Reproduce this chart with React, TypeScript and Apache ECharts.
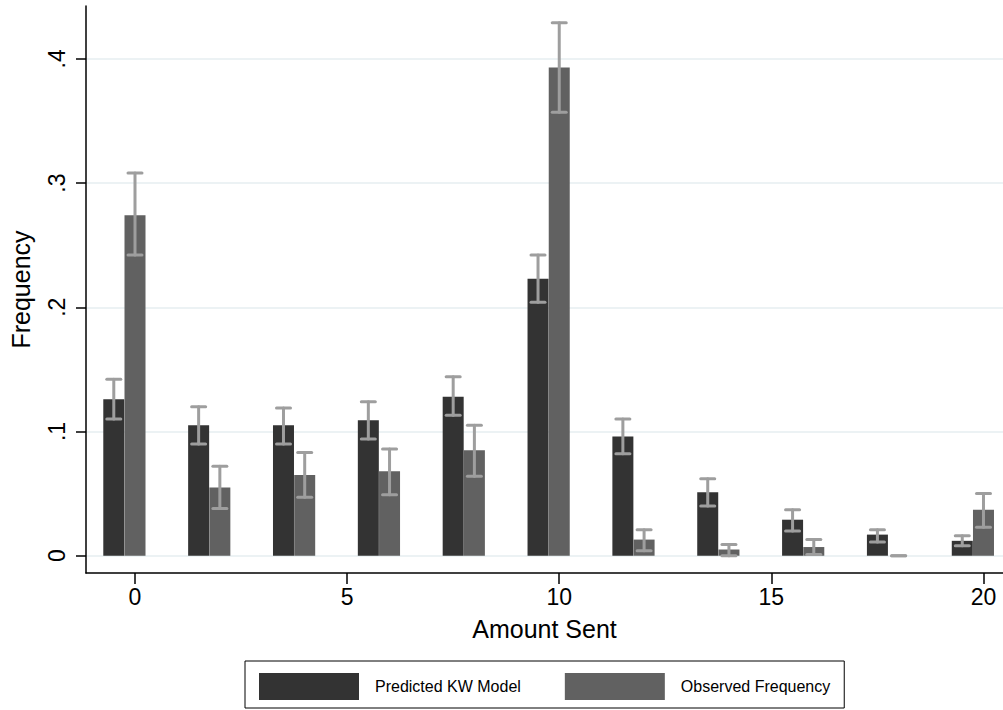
import React, { useEffect, useRef } from "react";
import * as echarts from "echarts";

// ---- data ----
const groups = [0, 2, 4, 6, 8, 10, 12, 14, 16, 18, 20];
const predicted = [0.126, 0.105, 0.105, 0.109, 0.128, 0.223, 0.096, 0.051, 0.029, 0.017, 0.012];
const predLow = [0.110, 0.090, 0.090, 0.094, 0.113, 0.204, 0.082, 0.040, 0.020, 0.011, 0.008];
const predHigh = [0.142, 0.120, 0.119, 0.124, 0.144, 0.242, 0.110, 0.062, 0.037, 0.021, 0.016];
const observed = [0.274, 0.055, 0.065, 0.068, 0.085, 0.393, 0.013, 0.005, 0.007, 0.0, 0.037];
const obsLow = [0.242, 0.038, 0.047, 0.049, 0.064, 0.357, 0.004, 0.0, 0.001, 0.0, 0.023];
const obsHigh = [0.308, 0.072, 0.083, 0.086, 0.105, 0.429, 0.021, 0.009, 0.013, 0.0, 0.05];
const predOffset = -0.5; // predicted bars sit half a unit left of each group
const xTicks = [0, 5, 10, 15, 20];
const yTicks = [0, 0.1, 0.2, 0.3, 0.4];
const yTickLabels = ["0", ".1", ".2", ".3", ".4"];
const seriesNames = ["Predicted KW Model", "Observed Frequency"];

const FONT = "'Liberation Sans', Arial, Helvetica, sans-serif";

export default function App() {
  const ref = useRef<HTMLDivElement>(null);

  useEffect(() => {
    document.body.style.margin = "0";
    if (!ref.current) return;
    const chart = echarts.init(ref.current, null, { renderer: "svg" });

    const predBars = groups.map((g, i) => [g + predOffset, predicted[i]]);
    const obsBars = groups.map((g, i) => [g, observed[i]]);
    const errData = [
      ...groups.map((g, i) => [g + predOffset, predLow[i], predHigh[i]]),
      ...groups.map((g, i) => [g, obsLow[i], obsHigh[i]]),
    ];

    const renderErr = (params: any, api: any) => {
      const x = api.value(0);
      const lo = api.value(1);
      const hi = api.value(2);
      const top = api.coord([x, hi]);
      const bot = api.coord([x, lo]);
      const hw = 7;
      const style = { stroke: "#9e9e9e", lineWidth: 3, lineCap: "round" };
      return {
        type: "group",
        children: [
          { type: "line", shape: { x1: top[0], y1: top[1], x2: bot[0], y2: bot[1] }, style },
          { type: "line", shape: { x1: top[0] - hw, y1: top[1], x2: top[0] + hw, y2: top[1] }, style },
          { type: "line", shape: { x1: bot[0] - hw, y1: bot[1], x2: bot[0] + hw, y2: bot[1] }, style },
        ],
      };
    };

    chart.setOption({
      animation: false,
      backgroundColor: "#ffffff",
      textStyle: { fontFamily: FONT },
      grid: { left: 86, right: 0, top: 6, bottom: 137, containLabel: false },
      legend: {
        data: seriesNames,
        left: 245,
        top: 661,
        orient: "horizontal",
        icon: "rect",
        itemWidth: 100,
        itemHeight: 27,
        itemGap: 44,
        padding: [12, 14, 8, 14],
        borderColor: "#000",
        borderWidth: 1,
        borderRadius: 0,
        textStyle: { fontFamily: FONT, fontSize: 16, color: "#000", padding: [0, 0, 0, 11] },
      },
      xAxis: {
        type: "value",
        min: -1.155,
        max: 20.46,
        name: "Amount Sent",
        nameLocation: "middle",
        nameGap: 43,
        nameTextStyle: { fontFamily: FONT, fontSize: 25, color: "#000" },
        axisLine: { show: true, onZero: false, lineStyle: { color: "#000", width: 1.5 } },
        axisTick: { show: true, length: 11, customValues: xTicks, lineStyle: { color: "#000", width: 1.5 } },
        axisLabel: {
          customValues: xTicks,
          margin: 12,
          fontFamily: FONT,
          fontSize: 23,
          color: "#000",
        },
        splitLine: { show: false },
      },
      yAxis: {
        type: "value",
        min: -0.0139,
        max: 0.4425,
        name: "Frequency",
        nameLocation: "middle",
        nameGap: 53,
        nameRotate: 90,
        nameTextStyle: { fontFamily: FONT, fontSize: 25, color: "#000" },
        axisLine: { show: true, onZero: false, lineStyle: { color: "#000", width: 1.5 } },
        axisTick: { show: true, length: 10, customValues: yTicks, lineStyle: { color: "#000", width: 1.5 } },
        axisLabel: {
          customValues: yTicks,
          rotate: 90,
          margin: 18,
          fontFamily: FONT,
          fontSize: 23,
          color: "#000",
          formatter: (v: number) => {
            const idx = yTicks.findIndex((t) => Math.abs(t - v) < 1e-9);
            return idx >= 0 ? yTickLabels[idx] : "";
          },
        },
        splitLine: { show: true, lineStyle: { color: "#e6eef0", width: 1.5 } },
      },
      series: [
        {
          name: seriesNames[0],
          type: "bar",
          data: predBars,
          barWidth: 21,
          barGap: "-100%",
          itemStyle: { color: "#333333" },
          z: 2,
        },
        {
          name: seriesNames[1],
          type: "bar",
          data: obsBars,
          barWidth: 21,
          barGap: "-100%",
          itemStyle: { color: "#616161" },
          z: 2,
        },
        {
          name: "errors",
          type: "custom",
          renderItem: renderErr,
          data: errData,
          encode: { x: 0, y: [1, 2] },
          z: 5,
          silent: true,
        },
      ],
    });

    return () => chart.dispose();
  }, []);

  return <div ref={ref} style={{ width: 1003, height: 710 }} />;
}
